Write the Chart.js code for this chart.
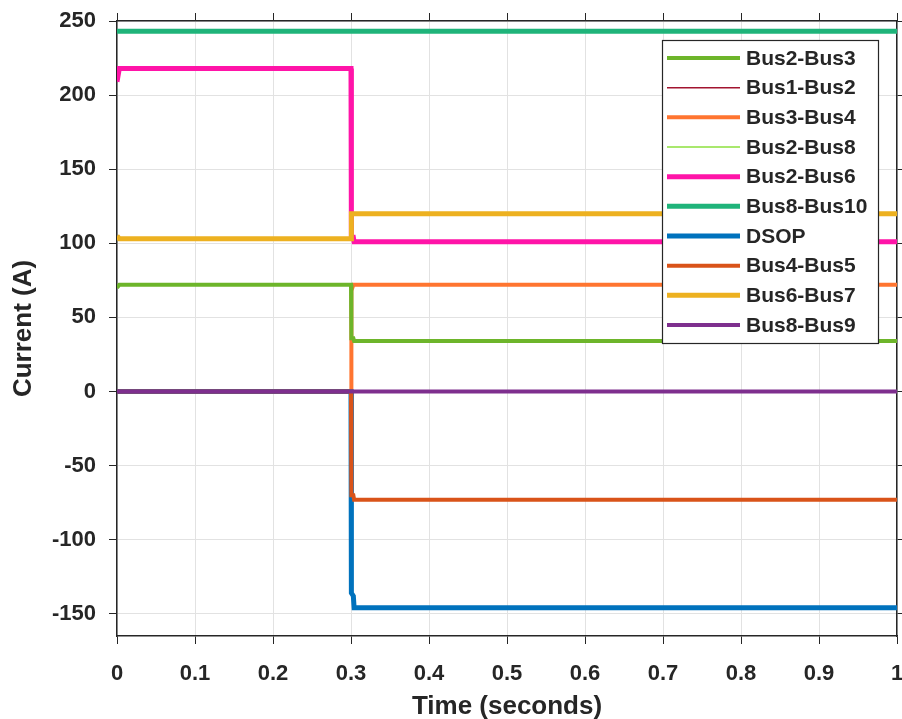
<!DOCTYPE html>
<html>
<head>
<meta charset="utf-8">
<script src="https://cdn.jsdelivr.net/npm/chart.js@4.4.1/dist/chart.umd.min.js"></script>
<style>
  body { margin: 0; background: #fff; }
  canvas { display: block; }
</style>
</head>
<body>
<canvas id="chart" width="902" height="719"></canvas>
<script>
// shared time base (s)
const time = [0, 0.003, 0.3, 0.3005, 0.303, 0.304, 1];

const seriesNames = ['Bus2-Bus3', 'Bus1-Bus2', 'Bus3-Bus4', 'Bus2-Bus8', 'Bus2-Bus6',
  'Bus8-Bus10', 'DSOP', 'Bus4-Bus5', 'Bus6-Bus7', 'Bus8-Bus9'];

const bus2bus3 = [70, 72, 72, 36, 36, 34, 34];
const bus1bus2 = [243, 243, 243, 243, 243, 243, 243];
const bus3bus4 = [0, 0, 0, 68, 72, 72, 72];
const bus2bus8 = [70, 72, 72, 36, 36, 34, 34];
const bus2bus6 = [209, 218, 218, 104, 104, 101, 101];
const bus8bus10 = [243, 243, 243, 243, 243, 243, 243];
const dsop = [0, 0, 0, -136, -138, -146, -146];
const bus4bus5 = [0, 0, 0, -70, -70, -73, -73];
const bus6bus7 = [105, 103, 103, 120, 120, 120, 120];
const bus8bus9 = [0, 0, 0, 0, 0, 0, 0];

const xTicks = [0, 0.1, 0.2, 0.3, 0.4, 0.5, 0.6, 0.7, 0.8, 0.9, 1];
const yTicks = [-150, -100, -50, 0, 50, 100, 150, 200, 250];

const allValues = [bus2bus3, bus1bus2, bus3bus4, bus2bus8, bus2bus6, bus8bus10, dsop, bus4bus5, bus6bus7, bus8bus9];
const colors = ['#6DB52A', '#A2142F', '#FF7530', '#8CE03C', '#FF14A8', '#1FB47A', '#0072BD', '#D95319', '#EDB120', '#7E2F8E'];
const widths = [4, 1.5, 4, 1.5, 5, 5, 5, 4, 5, 4];
// stacking: bigger = drawn later (on top)
const stack = [4, 1, 3, 2, 5, 6, 7, 8, 9, 10];

const FONT = '"Liberation Sans", Arial, Helvetica, sans-serif';
const GRID = '#e2e2e2';
const AXIS = '#262626';

const datasets = seriesNames.map((name, i) => ({
  label: name,
  data: time.map((t, k) => ({ x: t, y: allValues[i][k] })),
  borderColor: colors[i],
  backgroundColor: colors[i],
  borderWidth: widths[i],
  pointRadius: 0,
  tension: 0,
  order: 11 - stack[i],
  xAxisID: 'x',
  yAxisID: 'y',
}));

const fixTicks = (vals) => (axis) => { axis.ticks = vals.map(v => ({ value: v })); };
// fixed axis thickness, no auto padding for overhanging labels
const fitTo = (size) => (s) => {
  if (s.isHorizontal()) s.height = size; else s.width = size;
  s.paddingLeft = s.paddingRight = s.paddingTop = s.paddingBottom = 0;
};

// legend box drawn inside the plot area (upper right)
const boxLegend = {
  id: 'boxLegend',
  afterDraw(chart) {
    const ctx = chart.ctx;
    const x0 = 662, y0 = 40, w = 216, h = 303;
    ctx.save();
    ctx.fillStyle = '#fff';
    ctx.fillRect(x0, y0, w, h);
    ctx.strokeStyle = AXIS;
    ctx.lineWidth = 1.2;
    ctx.strokeRect(x0 + 0.5, y0 + 0.5, w, h);
    ctx.font = 'bold 21px ' + FONT;
    ctx.textBaseline = 'middle';
    ctx.fillStyle = '#262626';
    seriesNames.forEach((name, i) => {
      const y = 58 + i * 29.67;
      ctx.beginPath();
      ctx.strokeStyle = colors[i];
      ctx.lineWidth = widths[i];
      ctx.moveTo(667, y);
      ctx.lineTo(740, y);
      ctx.stroke();
      ctx.fillText(name, 746, y + 1);
    });
    ctx.restore();
  }
};

new Chart(document.getElementById('chart'), {
  type: 'line',
  data: { datasets },
  options: {
    responsive: false,
    animation: false,
    layout: { padding: 0 },
    plugins: { legend: { display: false }, tooltip: { enabled: false } },
    scales: {
      x: {
        type: 'linear', position: 'bottom', min: 0, max: 1,
        afterBuildTicks: fixTicks(xTicks),
        afterFit: fitTo(83),
        grid: { color: GRID, tickColor: AXIS, tickLength: 8, lineWidth: 1 },
        border: { color: AXIS, width: 1.5 },
        ticks: { color: '#262626', padding: 17, maxRotation: 0, autoSkip: false,
          font: { family: FONT, size: 22, weight: 'bold' },
          callback: (v) => String(v) },
        title: { display: true, text: 'Time (seconds)', color: '#262626',
          font: { family: FONT, size: 26, weight: 'bold' }, padding: { top: 0, bottom: -3 } },
      },
      x2: {
        type: 'linear', position: 'top', min: 0, max: 1,
        afterBuildTicks: fixTicks(xTicks),
        afterFit: fitTo(21),
        grid: { drawOnChartArea: false, tickColor: AXIS, tickLength: 8 },
        border: { color: AXIS, width: 1.5 },
        ticks: { display: false },
      },
      y: {
        type: 'linear', position: 'left', min: -165, max: 250,
        afterBuildTicks: fixTicks(yTicks),
        afterFit: fitTo(117),
        grid: { color: GRID, tickColor: AXIS, tickLength: 8, lineWidth: 1 },
        border: { color: AXIS, width: 1.5 },
        ticks: { color: '#262626', padding: 13,
          font: { family: FONT, size: 22, weight: 'bold' } },
        title: { display: true, text: 'Current (A)', color: '#262626',
          font: { family: FONT, size: 26, weight: 'bold' }, padding: { top: 8, bottom: 0 } },
      },
      y2: {
        type: 'linear', position: 'right', min: -165, max: 250,
        afterBuildTicks: fixTicks(yTicks),
        afterFit: fitTo(5),
        grid: { drawOnChartArea: false, tickColor: AXIS, tickLength: 8 },
        border: { color: AXIS, width: 1.5 },
        ticks: { display: false },
      },
    },
  },
  plugins: [boxLegend],
});
</script>
</body>
</html>
